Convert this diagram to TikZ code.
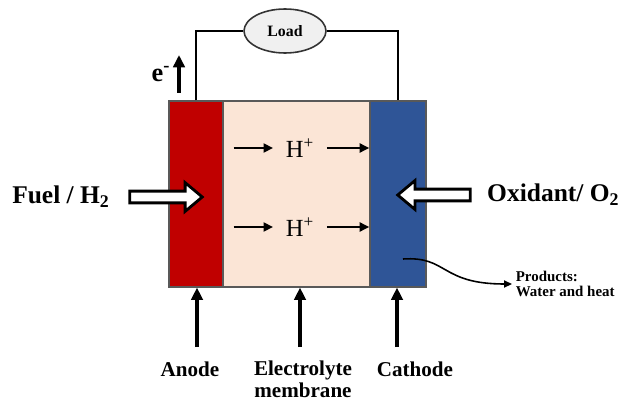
\documentclass[tikz,border=0pt]{standalone}
\usepackage{fontspec}
\setmainfont{Liberation Serif}
\usetikzlibrary{arrows.meta,shapes.geometric,shapes.arrows,positioning}

\definecolor{anodered}{RGB}{192,0,0}
\definecolor{cathodeblue}{RGB}{47,85,151}
\definecolor{membranepeach}{RGB}{251,229,214}

\begin{document}
\begin{tikzpicture}[x=0.02cm,y=-0.02cm,
  layer/.style={rectangle,draw=black!65,line width=0.7pt,minimum height=3.72cm,inner sep=0},
  feed/.style={single arrow,draw=black,line width=1.6pt,fill=white,inner xsep=0,inner ysep=0.09cm,
    text height=0pt,text depth=0pt,minimum height=1.45cm,single arrow head extend=0.17cm,
    single arrow tip angle=80},
  feedlbl/.style={font=\bfseries\fontsize{14.5}{16}\selectfont},
  partlbl/.style={font=\bfseries\fontsize{12}{12.5}\selectfont,align=center},
  wire/.style={line width=1.7pt},
  pointer/.style={-{Triangle[length=7pt,width=6.5pt]},line width=1.9pt},
  ion/.style={-{Triangle[length=5.5pt,width=5pt]},line width=1.5pt}]
\useasboundingbox (0,0) rectangle (626,402);

% Cell layers
\node[layer,fill=anodered,minimum width=1.08cm] (anode) at (196,194) {};
\node[layer,fill=membranepeach,minimum width=2.94cm] (membrane) at (296.5,194) {};
\node[layer,fill=cathodeblue,minimum width=1.12cm] (cathode) at (398,194) {};

% External circuit
\node[ellipse,draw=black!80,fill=black!6,line width=0.9pt,minimum width=1.64cm,minimum height=0.88cm,
  font=\bfseries\fontsize{9}{10}\selectfont] (load) at (285,31) {Load};
\draw[wire] (anode.north) |- (load.west);
\draw[wire] (load.east) -| (cathode.north);

\coordinate (etail) at (179,93);
\coordinate (ehead) at (179,55);
\draw[pointer] (etail) -- (ehead);
\node[font=\bfseries\fontsize{15}{16}\selectfont] (electron) at (161,74) {e\textsuperscript{-}};

% Proton transport
\node[font=\fontsize{14}{15}\selectfont,inner xsep=7pt] (hup) at (300,148) {H\textsuperscript{+}};
\node[font=\fontsize{14}{15}\selectfont,inner xsep=7pt] (hdown) at (300,227) {H\textsuperscript{+}};
\draw[ion,shorten <=0.2cm] (anode.east |- hup) -- (hup.west);
\draw[ion] (hup.east) -- (cathode.west |- hup);
\draw[ion,shorten <=0.2cm] (anode.east |- hdown) -- (hdown.west);
\draw[ion] (hdown.east) -- (cathode.west |- hdown);

% Reactant feeds
\node[feed] (fuelarrow) at (162.5,197) {};
\node[feedlbl,anchor=east] (fuel) at (116,197) {Fuel / H\textsubscript{2}};
\node[feed,shape border rotate=180] (oxarrow) at (437.5,195) {};
\node[feedlbl,anchor=west] (oxidant) at (481,195) {Oxidant/ O\textsubscript{2}};

% Products
\coordinate (prodstart) at (403,259);
\node[anchor=west,align=left,inner sep=2pt,font=\bfseries\fontsize{8.5}{8.6}\selectfont] (products) at (512,284) {Products:\\Water and heat};
\draw[line width=0.9pt,-{Triangle[length=4.5pt,width=4pt]}] (prodstart) .. controls (448,256) and (440,284) .. (products.west);

% Part labels
\node[partlbl] (anodelbl) at (190,369) {Anode};
\node[partlbl] (membranelbl) at (303,379) {Electrolyte\\membrane};
\node[partlbl] (cathodelbl) at (415,369) {Cathode};
\coordinate (atail) at (197,347);
\coordinate (mtail) at (300,347);
\coordinate (ctail) at (397,347);
\draw[pointer] (atail) -- (atail |- anode.south);
\draw[pointer] (mtail) -- (mtail |- membrane.south);
\draw[pointer] (ctail) -- (ctail |- cathode.south);
\end{tikzpicture}
\end{document}
